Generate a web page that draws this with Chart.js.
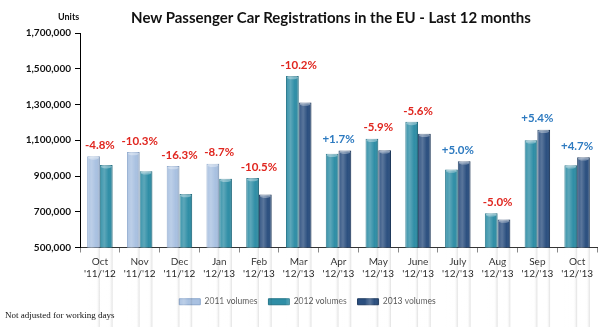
<!DOCTYPE html>
<html>
<head>
<meta charset="utf-8">
<script src="https://cdn.jsdelivr.net/npm/chart.js@4.4.0/dist/chart.umd.min.js"></script>
<style>
  body { margin: 0; background: #fff; }
  .wrap { position: relative; width: 603px; height: 327px; overflow: hidden; }
  #regChart { position: absolute; left: 0; top: 0; }
  .title { position: absolute; left: 131px; top: 8px; width: 400px; text-align: center;
           font: bold 15px Lato, "Open Sans", sans-serif; color: #111; white-space: nowrap; }
  .units { position: absolute; left: 58px; top: 11px; font: bold 9px Lato, sans-serif; color: #111; }
  .note { position: absolute; left: 5px; top: 310px; font: 9px "Liberation Serif", serif; color: #111; }
</style>
</head>
<body>
<div class="wrap">
  <canvas id="regChart" width="603" height="327"></canvas>
  <div class="title">New Passenger Car Registrations in the EU - Last 12 months</div>
  <div class="units">Units</div>
  <div class="note">Not adjusted for working days</div>
</div>
<script>
const months = [
  ['Oct', "'11/'12"], ['Nov', "'11/'12"], ['Dec', "'11/'12"], ['Jan', "'12/'13"],
  ['Feb', "'12/'13"], ['Mar', "'12/'13"], ['Apr', "'12/'13"], ['May', "'12/'13"],
  ['June', "'12/'13"], ['July', "'12/'13"], ['Aug', "'12/'13"], ['Sep', "'12/'13"],
  ['Oct', "'12/'13"]
];
const vol2011 = [1010000, 1034000, 956000, 969000, null, null, null, null, null, null, null, null, null];
const vol2012 = [961000, 927000, 800000, 885000, 889000, 1460000, 1025000, 1109000, 1203000, 936000, 692000, 1100000, 960000];
const vol2013 = [null, null, null, null, 796000, 1311000, 1042000, 1044000, 1136000, 983000, 657000, 1159000, 1005000];
const changes = [-4.8, -10.3, -16.3, -8.7, -10.5, -10.2, 1.7, -5.9, -5.6, 5.0, -5.0, 5.4, 4.7];
const yTicks = [500000, 700000, 900000, 1100000, 1300000, 1500000, 1700000];

Chart.defaults.font.family = 'Lato, "Open Sans", sans-serif';

// soft cylinder shading + light cap on every bar
const barShading = {
  id: 'barShading',
  afterDatasetsDraw(chart) {
    const ctx = chart.ctx;
    ctx.save();
    chart.data.datasets.forEach((ds, di) => {
      chart.getDatasetMeta(di).data.forEach((bar, i) => {
        if (ds.data[i] == null) return;
        const { x, y, width, base } = bar.getProps(['x', 'y', 'width', 'base'], true);
        const left = x - width / 2;
        const g = ctx.createLinearGradient(left, 0, left + width, 0);
        g.addColorStop(0, 'rgba(255,255,255,0.05)');
        g.addColorStop(0.35, 'rgba(255,255,255,0.22)');
        g.addColorStop(0.7, 'rgba(255,255,255,0)');
        g.addColorStop(1, 'rgba(0,0,0,0.12)');
        ctx.fillStyle = g;
        ctx.fillRect(left, y, width, base - y);
        ctx.fillStyle = 'rgba(255,255,255,0.35)';
        ctx.beginPath();
        ctx.ellipse(x, y + 1.5, width / 2 - 1, 1.8, 0, 0, Math.PI * 2);
        ctx.fill();
      });
    });
    ctx.restore();
  }
};

// percentage change written above each pair of bars
const changeLabels = {
  id: 'changeLabels',
  afterDatasetsDraw(chart) {
    const { ctx, scales: { x, y } } = chart;
    ctx.save();
    ctx.font = 'bold 11.5px Lato, sans-serif';
    ctx.textAlign = 'center';
    ctx.textBaseline = 'middle';
    changes.forEach((c, i) => {
      const top = Math.max(...[vol2011[i], vol2012[i], vol2013[i]].filter(v => v != null));
      ctx.fillStyle = c < 0 ? '#e0261f' : '#2d7ac0';
      const txt = (c > 0 ? '+' : '') + c.toFixed(1) + '%';
      ctx.fillText(txt, x.getPixelForValue(i), y.getPixelForValue(top) - 11);
    });
    ctx.restore();
  }
};

new Chart(document.getElementById('regChart'), {
  type: 'bar',
  data: {
    labels: months,
    datasets: [
      { label: '2011 volumes', data: vol2011, backgroundColor: '#a9c1e1', borderColor: '#8aa6cc', borderWidth: 1 },
      { label: '2012 volumes', data: vol2012, backgroundColor: '#2f8ea6', borderColor: '#217489', borderWidth: 1 },
      { label: '2013 volumes', data: vol2013, backgroundColor: '#2b4f7f', borderColor: '#1d3a60', borderWidth: 1 }
    ]
  },
  options: {
    responsive: false,
    animation: false,
    layout: { padding: { top: 33, right: 6, left: 18, bottom: 11 } },
    datasets: { bar: { skipNull: true, categoryPercentage: 0.64, barPercentage: 1 } },
    plugins: {
      legend: {
        position: 'bottom',
        labels: { boxWidth: 21, boxHeight: 6, padding: 11, color: '#555', font: { size: 8.5 } }
      },
      tooltip: { enabled: false }
    },
    scales: {
      x: {
        grid: { drawOnChartArea: false, tickLength: 5, color: '#888', offset: true },
        border: { color: '#333' },
        ticks: { font: { size: 10 }, color: '#222', maxRotation: 0, autoSkip: false, padding: 3 },
        afterFit(s) { s.height = 39; }
      },
      y: {
        min: yTicks[0],
        max: yTicks[yTicks.length - 1],
        afterBuildTicks(s) { s.ticks = yTicks.map(v => ({ value: v })); },
        ticks: {
          callback: v => v.toLocaleString('en-US'),
          font: { size: 10, weight: 'bold' }, color: '#111', padding: 4
        },
        grid: { drawOnChartArea: false, tickLength: 5, color: '#000' },
        border: { color: '#000' },
        afterFit(s) { s.width = 62; }
      }
    }
  },
  plugins: [barShading, changeLabels]
});
</script>
</body>
</html>
